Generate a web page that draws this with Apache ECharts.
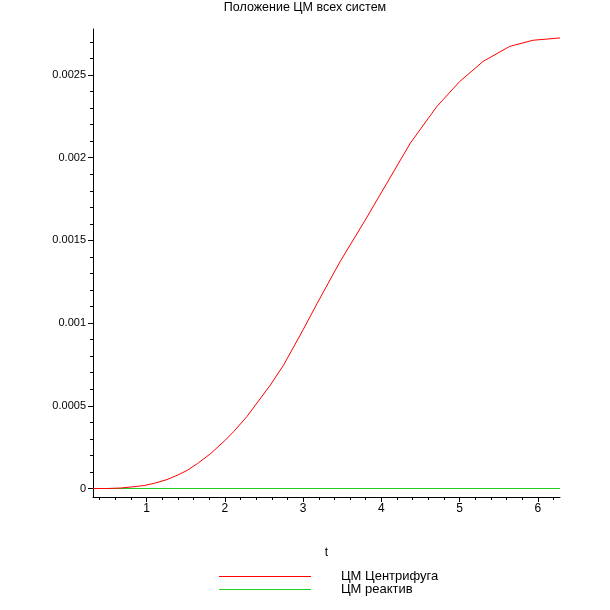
<!DOCTYPE html>
<html>
<head>
<meta charset="utf-8">
<script src="https://cdn.jsdelivr.net/npm/echarts@6/dist/echarts.min.js"></script>
<style>
  html, body { margin: 0; padding: 0; background: #fff; }
  #chart { width: 610px; height: 610px; }
</style>
</head>
<body>
<div id="chart"></div>
<script>
// Положение ЦМ всех систем (Maple plot)

var T_VALUES = [0.314, 0.5, 0.668, 0.82, 0.97, 1.1, 1.26, 1.4, 1.52, 1.65, 1.82, 2.0, 2.11, 2.28,
  2.58, 2.75, 3.0, 3.18, 3.47, 3.79, 4.07, 4.37, 4.71, 5.0, 5.3, 5.64, 5.94, 6.283];
var CENTRIFUGE = [0, 0, 0.000003, 0.00001, 0.000018, 0.000032, 0.000054, 0.000082, 0.00011, 0.000151,
  0.000212, 0.00029, 0.000343, 0.000434, 0.000625, 0.000746, 0.00096, 0.00112, 0.00137, 0.00162,
  0.001846, 0.002088, 0.00231, 0.00246, 0.002582, 0.002673, 0.00271, 0.002724];
var REAGENT_T = [0.314, 6.283];
var REAGENT = [0, 0];

var SERIES_NAMES = ['ЦМ Центрифуга', 'ЦМ реактив'];

var X_MAJOR = [1, 2, 3, 4, 5, 6];
var X_MINOR = [0.4, 0.6, 0.8, 1.2, 1.4, 1.6, 1.8, 2.2, 2.4, 2.6, 2.8, 3.2, 3.4, 3.6, 3.8,
  4.2, 4.4, 4.6, 4.8, 5.2, 5.4, 5.6, 5.8, 6.2];
var Y_MAJOR = [0, 0.0005, 0.001, 0.0015, 0.002, 0.0025];
var Y_MINOR = [0.0001, 0.0002, 0.0003, 0.0004, 0.0006, 0.0007, 0.0008, 0.0009,
  0.0011, 0.0012, 0.0013, 0.0014, 0.0016, 0.0017, 0.0018, 0.0019,
  0.0021, 0.0022, 0.0023, 0.0024, 0.0026, 0.0027];

var X_MIN = 0.314, X_MAX = 6.283;
var Y_MIN = -0.0000514, Y_MAX = 0.002778;

function pairs(xs, ys) {
  return xs.map(function (x, i) { return [x, ys[i]]; });
}

var FONT = 'Liberation Sans';
var axisColor = '#000';
var LEGEND_LINE = 'path://M0,0 L92,0 L92,1 L0,1 Z';

var chart = echarts.init(document.getElementById('chart'), null, { renderer: 'canvas' });

chart.setOption({
  animation: false,
  backgroundColor: '#fff',
  title: {
    text: 'Положение ЦМ всех систем',
    left: 'center',
    top: 1,
    padding: 0,
    textStyle: { fontFamily: FONT, fontSize: 12.5, fontWeight: 'normal', color: '#000' }
  },
  legend: {
    data: [
      { name: SERIES_NAMES[0], icon: LEGEND_LINE },
      { name: SERIES_NAMES[1], icon: LEGEND_LINE }
    ],
    orient: 'vertical',
    left: 219,
    top: 570,
    padding: 0,
    itemWidth: 92,
    itemHeight: 12,
    itemGap: 0,
    textStyle: { fontFamily: FONT, fontSize: 13, color: '#000', padding: [0, 0, 0, 25], lineHeight: 12 }
  },
  grid: { left: 93, right: 50, top: 29, bottom: 113, containLabel: false },
  xAxis: [{
    type: 'value',
    min: X_MIN,
    max: X_MAX,
    name: 't',
    nameLocation: 'middle',
    nameGap: 50,
    nameTextStyle: { fontFamily: FONT, fontSize: 12, color: '#000' },
    axisLine: { onZero: false, lineStyle: { color: axisColor, width: 1 } },
    axisTick: { customValues: X_MAJOR, length: 5, lineStyle: { color: axisColor } },
    axisLabel: { customValues: X_MAJOR, margin: 6, fontFamily: FONT, fontSize: 12, color: '#000' },
    splitLine: { show: false }
  }, {
    type: 'value',
    min: X_MIN,
    max: X_MAX,
    position: 'bottom',
    axisLine: { show: false, onZero: false },
    axisTick: { customValues: X_MINOR, length: 3, lineStyle: { color: axisColor } },
    axisLabel: { show: false },
    splitLine: { show: false }
  }],
  yAxis: [{
    type: 'value',
    min: Y_MIN,
    max: Y_MAX,
    axisLine: { show: true, onZero: false, lineStyle: { color: axisColor, width: 1 } },
    axisTick: { show: true, customValues: Y_MAJOR, length: 5, lineStyle: { color: axisColor } },
    axisLabel: {
      customValues: Y_MAJOR,
      margin: 7,
      fontFamily: FONT,
      fontSize: 11,
      color: '#000',
      formatter: function (v) { return String(+Number(v).toFixed(4)); }
    },
    splitLine: { show: false }
  }, {
    type: 'value',
    min: Y_MIN,
    max: Y_MAX,
    position: 'left',
    axisLine: { show: false, onZero: false },
    axisTick: { show: true, customValues: Y_MINOR, length: 3, lineStyle: { color: axisColor } },
    axisLabel: { show: false },
    splitLine: { show: false }
  }],
  series: [{
    name: SERIES_NAMES[0],
    type: 'line',
    z: 3,
    data: pairs(T_VALUES, CENTRIFUGE),
    symbol: 'none',
    color: '#ff0000',
    lineStyle: { color: '#ff0000', width: 1 }
  }, {
    name: SERIES_NAMES[1],
    type: 'line',
    z: 2,
    data: pairs(REAGENT_T, REAGENT),
    symbol: 'none',
    color: '#22cc22',
    lineStyle: { color: '#22cc22', width: 1 }
  }]
});
</script>
</body>
</html>
